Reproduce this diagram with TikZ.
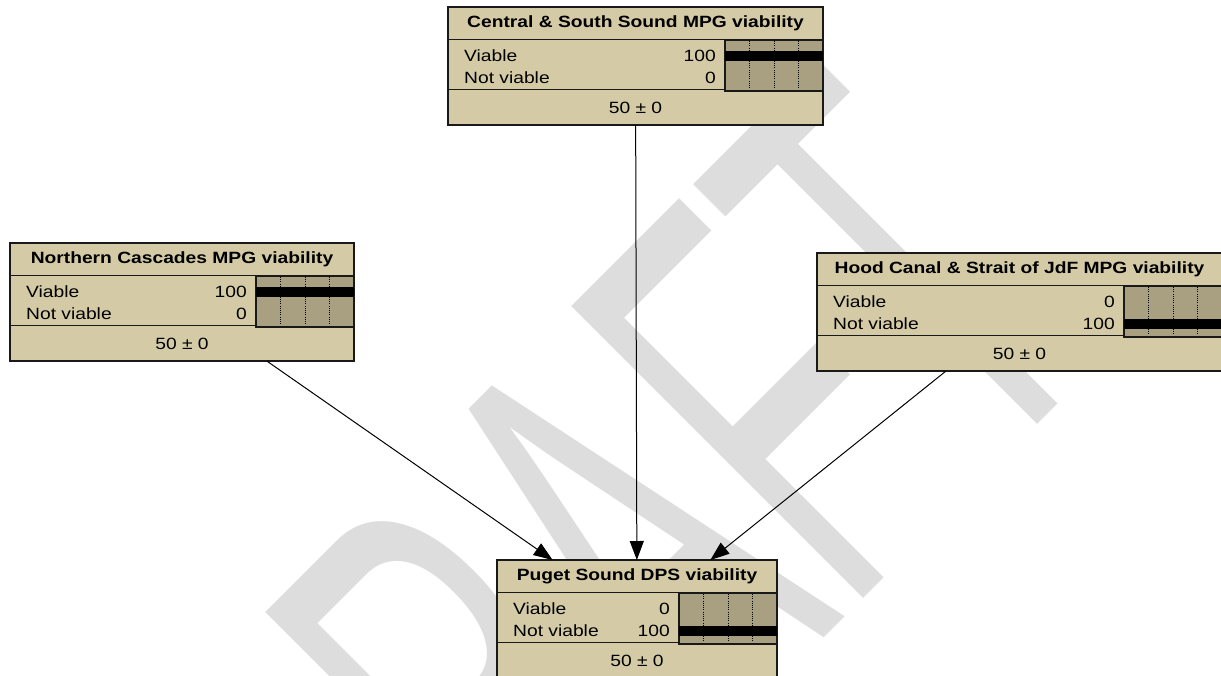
\documentclass[tikz,border=0pt]{standalone}
\usepackage{fontspec}
\setmainfont{Liberation Sans}
\usetikzlibrary{arrows.meta}
\definecolor{nodetan}{RGB}{212,203,166}
\definecolor{bartan}{RGB}{168,160,128}
\definecolor{wmgray}{RGB}{221,221,221}
\definecolor{edgeblk}{RGB}{25,25,25}

\newcommand{\wtxt}[1]{\scalebox{1.18}[1]{#1}}

\tikzset{
  nodebox/.style={draw=edgeblk, line width=1.4pt, fill=nodetan, rectangle, inner sep=0pt, outer sep=0pt},
  divline/.style={draw=edgeblk, line width=1.4pt},
  barbox/.style={fill=bartan, draw=edgeblk, line width=2pt},
  gridline/.style={draw=black, line width=0.7pt, dash pattern=on 0.8pt off 1.4pt},
  beliefbar/.style={fill=black},
  titletxt/.style={inner sep=0pt, font=\fontsize{16.3}{19}\selectfont\bfseries},
  statetxt/.style={inner sep=0pt, font=\fontsize{16.3}{19}\selectfont},
  link/.style={draw=black, line width=1pt, -{Triangle[length=19pt,width=14pt]}},
}

% #1 name, #2 left x, #3 top y, #4 width, #5 title, #6 value 1, #7 value 2, #8 black bar row
\newcommand{\bnnode}[8]{%
  \node[nodebox, minimum width=#4pt, minimum height=118pt, anchor=north west] (#1) at (#2,#3) {};
  \begin{scope}[shift={(#2,#3)}]
    \path[divline] (0,32.5) -- (#4,32.5);
    \path[divline] (0,82.5) -- (#4,82.5);
    \path[barbox] ({#4-98},32.5) rectangle (#4,83.5);
    \foreach \f in {0.25,0.5,0.75} \path[gridline] ({#4-98+98*\f},34) -- ({#4-98+98*\f},82);
    \ifnum#8=1
      \fill[beliefbar] ({#4-98},44) rectangle (#4,54);
    \else
      \fill[beliefbar] ({#4-98},66) rectangle (#4,76);
    \fi
    \node[titletxt] (#1-title) at ({#4/2},16.5) {\wtxt{#5}};
    \node[statetxt, anchor=west] (#1-s1) at (16,49) {\wtxt{Viable}};
    \node[statetxt, anchor=west] (#1-s2) at (16,71) {\wtxt{Not viable}};
    \node[statetxt, anchor=east] (#1-v1) at ({#4-107},49) {\wtxt{#6}};
    \node[statetxt, anchor=east] (#1-v2) at ({#4-107},71) {\wtxt{#7}};
    \node[statetxt] (#1-mean) at ({#4/2},100.5) {\wtxt{50 ± 0}};
  \end{scope}
}

\begin{document}
\begin{tikzpicture}[x=1pt, y=-1pt]
  \path[use as bounding box] (0,0) rectangle (1221,675);
  \clip (0,0) rectangle (1221,675);
  \fill[white] (0,0) rectangle (1221,675);

  % watermark
  \node[anchor=base west, rotate=45, inner sep=0pt, text=wmgray] (wm) at (380,1082)
    {\scalebox{0.52}[1]{\fontsize{600}{600}\selectfont DRAFT}};

  \bnnode{cs}{448}{7}{375}{Central \& South Sound MPG viability}{100}{0}{1}
  \bnnode{nc}{10}{243}{344}{Northern Cascades MPG viability}{100}{0}{1}
  \bnnode{hc}{817}{253}{405}{Hood Canal \& Strait of JdF MPG viability}{0}{100}{2}
  \bnnode{ps}{497}{560}{280}{Puget Sound DPS viability}{0}{100}{2}

  \draw[link] (nc) -- (ps);
  \draw[link] (cs) -- (ps);
  \draw[link] (hc) -- (ps);
\end{tikzpicture}
\end{document}
